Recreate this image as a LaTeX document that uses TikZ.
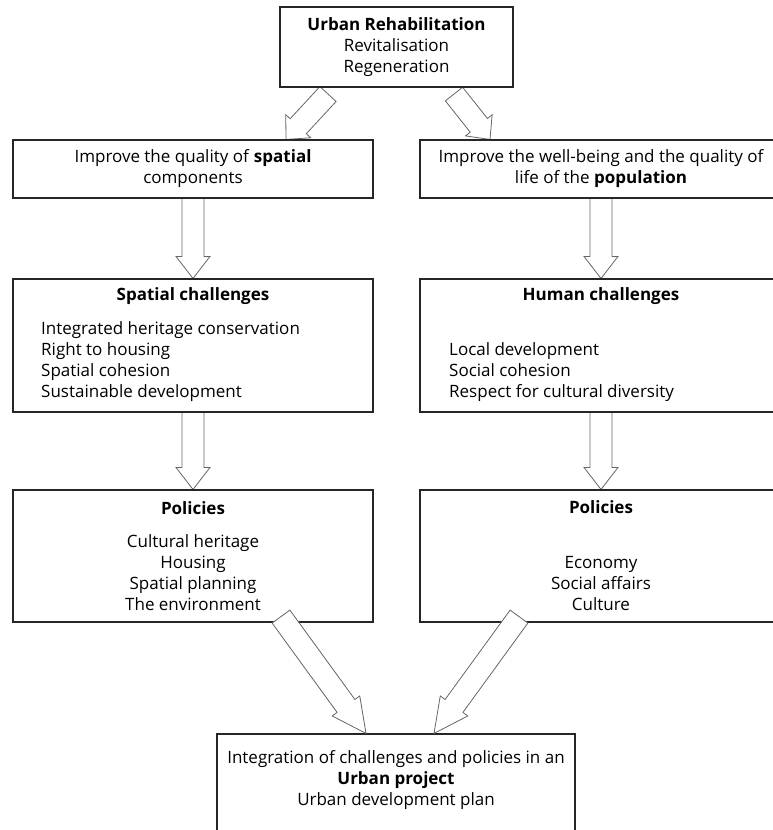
\documentclass[tikz,border=0pt]{standalone}
\usepackage{fontspec}
\setmainfont{Open Sans}
\usetikzlibrary{calc,backgrounds}

% hollow wide arrow: [head length]{tail}{tip}
\newcommand{\fatarrow}[3][24pt]{%
  \coordinate (fa-s1) at ($(#2)!11pt!90:(#3)$);
  \coordinate (fa-s2) at ($(#2)!11pt!-90:(#3)$);
  \coordinate (fa-b) at ($(#3)!#1!(#2)$);
  \draw[fatline] (fa-s1) -- ($(fa-b)!11pt!-90:(#2)$) -- ($(fa-b)!17pt!-90:(#2)$)
    -- (#3) -- ($(fa-b)!17pt!90:(#2)$) -- ($(fa-b)!11pt!90:(#2)$) -- (fa-s2) -- cycle;
}

\begin{document}
\begin{tikzpicture}
  [x=1pt, y=-1pt, font=\fontsize{17pt}{21pt}\selectfont,
   box/.style={draw=black!85, line width=1.1pt, fill=white, inner sep=0pt, align=center},
   txt/.style={inner sep=0pt, align=left},
   fatline/.style={draw=black!60, fill=white, line width=0.8pt, line join=miter}]
  \useasboundingbox (0,0) rectangle (772,830);

  \node[box, minimum width=233pt, minimum height=80pt] (top) at (396.5,47)
    {\textbf{Urban Rehabilitation}\\Revitalisation\\Regeneration};
  \node[box, minimum width=360pt, minimum height=58pt] (impL) at (193,169)
    {Improve the quality of \textbf{spatial}\\components};
  \node[box, minimum width=362pt, minimum height=58pt] (impR) at (601,169)
    {Improve the well-being and the quality of\\life of the \textbf{population}};
  \node[box, minimum width=360pt, minimum height=133pt] (spat) at (193,345.5) {};
  \node[box, minimum width=362pt, minimum height=133pt] (hum) at (601,345.5) {};
  \node[box, minimum width=360pt, minimum height=132pt] (polL) at (193,556)
    {\textbf{Policies}\\[12pt]Cultural heritage\\Housing\\Spatial planning\\The environment};
  \node[box, minimum width=362pt, minimum height=132pt] (polR) at (601,556)
    {\textbf{Policies}\\[34pt]Economy\\Social affairs\\Culture};
  \node[box, minimum width=358pt, minimum height=116pt] (urb) at (396,792) {};

  \node[txt] (spathead) at (193,296) {\textbf{Spatial challenges}};
  \node[txt, anchor=west] (spatlist) at (41,362)
    {Integrated heritage conservation\\Right to housing\\Spatial cohesion\\Sustainable development};
  \node[txt] (humhead) at (601,296) {\textbf{Human challenges}};
  \node[txt, anchor=west] (humlist) at (449,372.5)
    {Local development\\Social cohesion\\Respect for cultural diversity};
  \node[txt, align=center] (urbtxt) at (396,780)
    {Integration of challenges and policies in an\\\textbf{Urban project}\\Urban development plan};

  % arrow ends
  \coordinate (a1) at ($(top.south)+(-68.5,6.5)$);
  \coordinate (a2) at ($(impL.north)+(93,0)$);
  \coordinate (a3) at ($(top.south)+(57.5,6.5)$);
  \coordinate (a4) at ($(impR.north)+(-111,0)$);
  \coordinate (a5) at ($(polL.south)+(88,-6)$);
  \coordinate (a6) at ($(urb.north)+(-30,0)$);
  \coordinate (a7) at ($(polR.south)+(-82,-6)$);
  \coordinate (a8) at ($(urb.north)+(38,0)$);

  \begin{pgfonlayer}{background}
    \fatarrow[18pt]{a1}{a2}
    \fatarrow[18pt]{a3}{a4}
    \foreach \from/\to in {impL/spat,spat/polL,impR/hum,hum/polR}
      \fatarrow[22pt]{\from.south}{\to.north};
  \end{pgfonlayer}
  \fatarrow[34pt]{a5}{a6}
  \fatarrow[34pt]{a7}{a8}
\end{tikzpicture}
\end{document}
